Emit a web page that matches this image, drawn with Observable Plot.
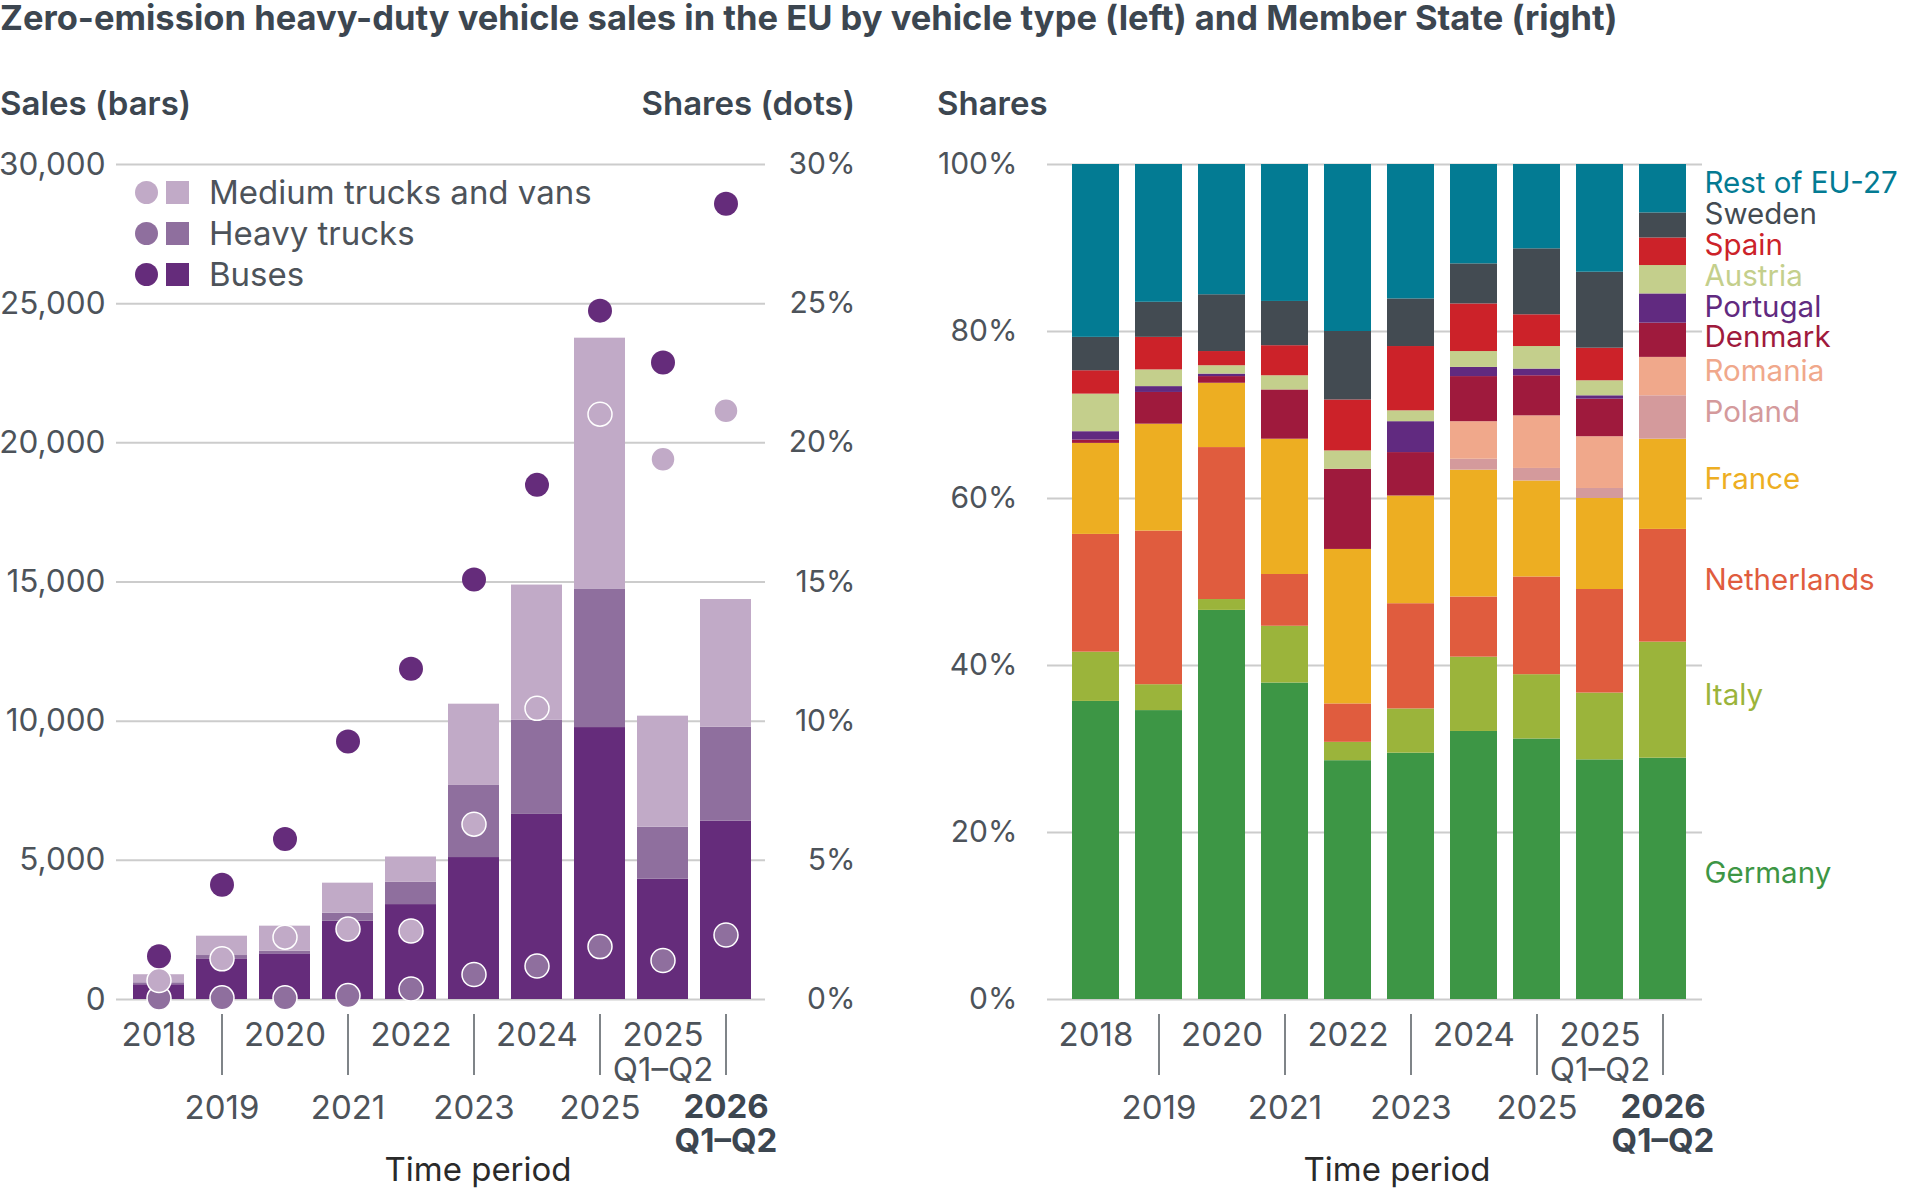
<!DOCTYPE html>
<html>
<head>
<meta charset="utf-8">
<script src="https://cdn.jsdelivr.net/npm/d3@7"></script>
<script src="https://cdn.jsdelivr.net/npm/@observablehq/plot@0.6"></script>
<style>
  body { margin: 0; background: #fff; width: 1920px; height: 1188px; position: relative; overflow: hidden;
         font-family: Inter, "Open Sans", sans-serif; color: #3c4650; }
  .abs { position: absolute; white-space: nowrap; }
  #title { left: 0; top: -1px; font-size: 34.5px; font-weight: 700; line-height: 38px; color: #3c4650; }
  .head { font-size: 33px; font-weight: 600; line-height: 36px; top: 85px; color: #3c4650; }
  .legend-row { position: absolute; left: 135px; height: 34px; display: flex; align-items: center; }
  .legend-row .c { width: 23px; height: 23px; border-radius: 50%; }
  .legend-row .s { width: 23px; height: 23px; margin-left: 8px; }
  .legend-row .t { margin-left: 20px; font-size: 33px; color: #4d535a; }
</style>
</head>
<body>
<div id="title" class="abs">Zero-emission heavy-duty vehicle sales in the EU by vehicle type (left) and Member State (right)</div>
<div class="abs head" style="left:0">Sales (bars)</div>
<div class="abs head" style="right:1065px;text-align:right">Shares (dots)</div>
<div class="abs head" style="left:937px">Shares</div>
<div id="left" class="abs" style="left:0;top:130px"></div>
<div id="right" class="abs" style="left:900px;top:130px"></div>
<script>
// ---- Time periods and their two-line tick labels ----
const periods = ["2018", "2019", "2020", "2021", "2022", "2023", "2024", "2025", "2025 Q1–Q2", "2026 Q1–Q2"];
const periodLine1 = ["2018", "2019", "2020", "2021", "2022", "2023", "2024", "2025", "2025", "2026"];
const periodLine2 = ["", "", "", "", "", "", "", "", "Q1–Q2", "Q1–Q2"];

// ---- Left panel: sales (bars) and market shares (dots) by vehicle type ----
const vehicleTypes = ["Buses", "Heavy trucks", "Medium trucks and vans"];
const vehicleColors = ["#652c7b", "#8f6f9e", "#c1aac7"];

const busSales    = [530, 1460, 1640, 2810, 3410, 5100, 6650, 9770, 4320, 6410];
const heavySales  = [70, 120, 95, 290, 800, 2590, 3380, 4980, 1870, 3370];
const mediumSales = [290, 695, 900, 1080, 910, 2920, 4860, 9010, 3990, 4590];

// shares in percent
const busShare    = [1.55, 4.12, 5.77, 9.27, 11.88, 15.09, 18.49, 24.75, 22.89, 28.59];
const heavyShare  = [0.05, 0.06, 0.06, 0.14, 0.38, 0.90, 1.20, 1.90, 1.40, 2.32];
const mediumShare = [0.68, 1.46, 2.24, 2.53, 2.46, 6.30, 10.46, 21.03, 19.41, 21.15];

const salesTicks = [0, 5000, 10000, 15000, 20000, 25000, 30000];
const shareTicksLeft = ["0%", "5%", "10%", "15%", "20%", "25%", "30%"];

// ---- Right panel: shares by Member State (stacked bottom to top) ----
const countries = ["Germany", "Italy", "Netherlands", "France", "Poland", "Romania",
                   "Denmark", "Portugal", "Austria", "Spain", "Sweden", "Rest of EU-27"];
const countryColors = ["#3d9645", "#9bb43b", "#e05c3e", "#edae22", "#d49a9c", "#f0a88b",
                       "#9f1a3d", "#612a80", "#c4cf8c", "#cc2229", "#434b52", "#037b93"];

const germany     = [35.7, 34.6, 46.6, 37.9, 28.6, 29.5, 32.1, 31.2, 28.7, 28.9];
const italy       = [5.9, 3.1, 1.3, 6.8, 2.2, 5.3, 8.9, 7.7, 8.0, 13.9];
const netherlands = [14.1, 18.4, 18.2, 6.2, 4.6, 12.6, 7.2, 11.7, 12.4, 13.5];
const france      = [10.9, 12.8, 7.7, 16.2, 18.5, 12.9, 15.2, 11.5, 10.9, 10.8];
const poland      = [0, 0, 0, 0, 0, 0, 1.3, 1.5, 1.2, 5.2];
const romania     = [0, 0, 0, 0, 0, 0, 4.5, 6.3, 6.2, 4.6];
const denmark     = [0.4, 3.8, 0.8, 5.9, 9.6, 5.2, 5.4, 4.8, 4.5, 4.1];
const portugal    = [1.0, 0.7, 0.3, 0, 0, 3.7, 1.1, 0.8, 0.4, 3.5];
const austria     = [4.5, 2.0, 1.0, 1.7, 2.2, 1.3, 1.9, 2.7, 1.8, 3.4];
const spain       = [2.8, 3.9, 1.7, 3.6, 6.1, 7.7, 5.7, 3.8, 3.9, 3.3];
const sweden      = [4.0, 4.2, 6.8, 5.3, 8.2, 5.7, 4.8, 7.9, 9.1, 3.0];
const restOfEU    = [20.7, 16.5, 15.6, 16.4, 20.0, 16.1, 11.9, 10.1, 12.9, 5.8];

const shareTicksRight = [0, 20, 40, 60, 80, 100];

// ---- Build tables ----
const salesBySeries = [busSales, heavySales, mediumSales];
const shareBySeries = [busShare, heavyShare, mediumShare];
const salesRows = vehicleTypes.flatMap((t, i) => periods.map((p, j) => ({period: p, type: t, sales: salesBySeries[i][j]})));
// one share % corresponds to 1,000 sales on the shared vertical frame
const dotRows = vehicleTypes.map((t, i) => periods.map((p, j) => ({period: p, type: t, y: shareBySeries[i][j] * 1000})));

const countrySeries = [germany, italy, netherlands, france, poland, romania, denmark, portugal, austria, spain, sweden, restOfEU];
const shareRows = countries.flatMap((c, i) => periods.map((p, j) => ({period: p, country: c, share: countrySeries[i][j]})));

const last = periods.length - 1;
const tickRows = periods.map((p, i) => ({period: p, l1: periodLine1[i], l2: periodLine2[i], row: i % 2, bold: i === last}));

// Direct labels beside the last bar, spread apart so they do not collide
function spread(items, gap) {
  const s = items.slice().sort((a, b) => a.pos - b.pos);
  for (let k = 0; k < 500; k++) {
    let moved = false;
    for (let i = 1; i < s.length; i++) {
      const d = s[i].pos - s[i - 1].pos;
      if (d < gap - 1e-6) { const h = (gap - d) / 2; s[i].pos += h; s[i - 1].pos -= h; moved = true; }
    }
    if (!moved) break;
  }
  return s;
}
let cum = 0;
const labelRows = spread(countries.map((c, i) => {
  const v = countrySeries[i][last];
  const mid = cum + v / 2;
  cum += v;
  return {country: c, pos: mid};
}), 3.7);

// ---- Shared styling ----
const tickColor = "#4d535a";
const gridColor = "#cccccc";
const baseStyle = {fontFamily: "Inter, 'Open Sans', sans-serif", fontSize: "30px", color: tickColor, background: "transparent", overflow: "visible"};

function timeAxis(dxTitle) {
  return [
    Plot.text(tickRows.filter(d => d.row === 0), {x: "period", text: "l1", frameAnchor: "bottom", dy: 46, fontSize: 33, fill: tickColor}),
    Plot.text(tickRows.filter(d => d.row === 0 && d.l2), {x: "period", text: "l2", frameAnchor: "bottom", dy: 81, fontSize: 33, fill: tickColor}),
    Plot.text(tickRows.filter(d => d.row === 1 && !d.bold), {x: "period", text: "l1", frameAnchor: "bottom", dy: 119, fontSize: 33, fill: tickColor}),
    Plot.text(tickRows.filter(d => d.bold), {x: "period", text: d => d.l1 + "\n" + d.l2, frameAnchor: "bottom", dy: 152, lineHeight: 34 / 33, fontSize: 33, fontWeight: 700, fill: "#3c4650"}),
    Plot.ruleX(tickRows.filter(d => d.row === 1), {x: "period", insetTop: 774, dy: 76, stroke: "#555b61", strokeWidth: 1.5}),
    Plot.text(["Time period"], {frameAnchor: "bottom", dy: 181, dx: dxTitle, fontSize: 33, fill: "#2a2a2a"})
  ];
}

// ---- Left chart ----
const leftChart = Plot.plot({
  width: 900, height: 1058,
  marginTop: 34, marginBottom: 189, marginLeft: 116, marginRight: 135,
  style: baseStyle,
  x: {domain: periods, paddingInner: 0.194, paddingOuter: 0.223, align: 0.53, axis: null},
  y: {domain: [0, 30000], axis: null},
  color: {domain: vehicleTypes, range: vehicleColors},
  marks: [
    Plot.ruleY(salesTicks, {stroke: gridColor, strokeWidth: 2}),
    Plot.text(salesTicks, {y: d => d, text: d => d3.format(",")(d), frameAnchor: "left", textAnchor: "end", dx: -11, fontSize: 31.5, fill: tickColor}),
    Plot.text(salesTicks, {y: d => d, text: (d, i) => shareTicksLeft[i], frameAnchor: "right", textAnchor: "end", dx: 90, fill: tickColor}),
    Plot.barY(salesRows, {x: "period", y: "sales", fill: "type", order: vehicleTypes}),
    Plot.dot(dotRows[1], {x: "period", y: "y", r: 12, fill: vehicleColors[1], stroke: "white", strokeWidth: 1.5}),
    Plot.dot(dotRows[2], {x: "period", y: "y", r: 12, fill: vehicleColors[2], stroke: "white", strokeWidth: 1.5}),
    Plot.dot(dotRows[0], {x: "period", y: "y", r: 12, fill: vehicleColors[0]}),
    ...timeAxis(37)
  ]
});
document.getElementById("left").append(leftChart);

// ---- Right chart ----
const rightChart = Plot.plot({
  width: 1020, height: 1058,
  marginTop: 34, marginBottom: 189, marginLeft: 147, marginRight: 218,
  style: baseStyle,
  x: {domain: periods, paddingInner: 0.253, paddingOuter: 0.3085, align: 0.6, axis: null},
  y: {domain: [0, 100], axis: null},
  color: {domain: countries, range: countryColors},
  marks: [
    Plot.ruleY(shareTicksRight, {stroke: gridColor, strokeWidth: 2}),
    Plot.text(shareTicksRight, {y: d => d, text: d => d + "%", frameAnchor: "left", textAnchor: "end", dx: -30, fill: tickColor}),
    Plot.barY(shareRows, {x: "period", y: "share", fill: "country", order: countries}),
    Plot.text(labelRows, {y: "pos", text: "country", fill: "country", frameAnchor: "right", textAnchor: "start", dx: 2, dy: -5, fontSize: 29.5}),
    ...timeAxis(22)
  ]
});
document.getElementById("right").append(rightChart);

// ---- Legend for the left chart (circle = share, square = sales) ----
const legendOrder = vehicleTypes.slice().reverse();
const rows = d3.select("body").selectAll("div.legend-row").data(legendOrder).join("div")
  .attr("class", "legend-row")
  .style("top", (d, i) => (175 + i * 41) + "px");
rows.append("div").attr("class", "c").style("background", d => vehicleColors[vehicleTypes.indexOf(d)]);
rows.append("div").attr("class", "s").style("background", d => vehicleColors[vehicleTypes.indexOf(d)]);
rows.append("div").attr("class", "t").text(d => d);
</script>
</body>
</html>
